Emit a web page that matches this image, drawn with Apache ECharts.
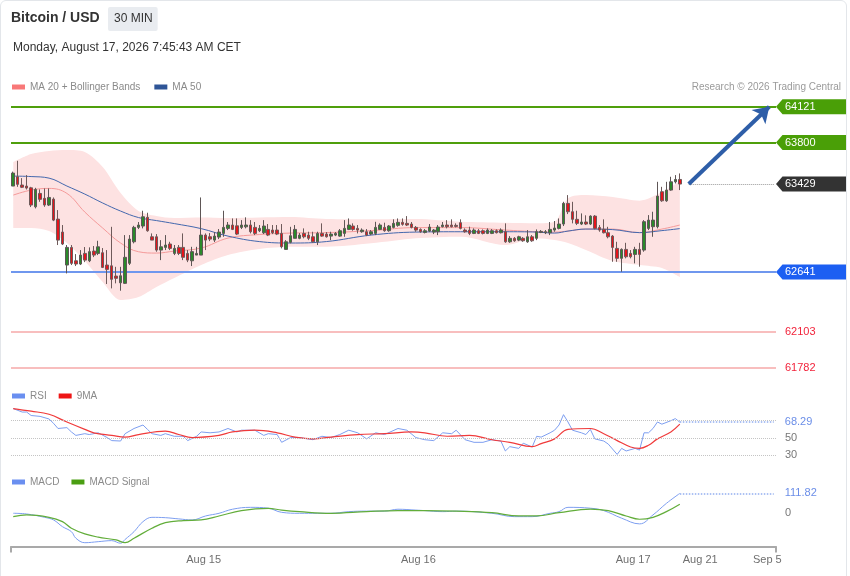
<!DOCTYPE html>
<html><head><meta charset="utf-8">
<script src="https://cdn.jsdelivr.net/npm/echarts/dist/echarts.min.js"></script>
<style>
html,body{margin:0;padding:0;background:#fff;}
#c{position:absolute;left:0;top:0;width:850px;height:576px;}
#frame{position:absolute;left:0;top:0;width:845px;height:600px;border:1px solid #e3e6ea;border-radius:6px;pointer-events:none;}
</style></head><body>
<div id="c"></div><div id="frame"></div>
<script>
// ---------- DATA ----------
const opens  = [63411,63494,63420,63411,63395,63225,63345,63301,63241,63294,63115,62999,62704,62862,62742,62713,62808,62742,62829,62808,62814,62704,62697,62605,62545,62540,62719,62912,63041,63053,63131,62957,62957,62838,62862,62892,62808,62862,62862,62808,62742,62793,62793,62972,62957,62927,62954,62987,63032,63062,63055,63041,63046,63062,63041,63011,62993,63023,63017,63017,62987,62844,62907,62943,62943,62987,62972,62957,62912,62987,62981,62963,62972,62963,62987,63023,63053,63032,63002,63002,62981,62987,63023,63041,63011,63041,63059,63086,63077,63071,63041,63023,62996,63008,62999,63002,63047,63062,63062,63059,63083,63017,63017,62987,63011,63011,62987,62987,63011,62993,63002,62912,62943,62927,62943,62912,62957,62943,62996,62993,62993,63017,63032,63071,63256,63181,63113,63071,63089,63071,63142,63041,63023,62993,62963,62853,62764,62844,62808,62799,62844,62838,63032,63047,63047,63360,63279,63375,63449,63470];
const closes = [63527,63426,63400,63393,63241,63381,63292,63241,63309,63106,62927,62892,62862,62719,62713,62793,62748,62824,62793,62867,62683,62665,62576,62585,62608,62773,62936,63041,63062,63136,63011,62927,62838,62867,62883,62853,62853,62808,62773,62748,62824,62808,62972,62927,62936,62963,62999,63041,63062,63023,62981,63062,63062,63002,62987,63032,63053,62972,62993,62981,62868,62912,62966,63023,62972,62957,62943,62912,62987,62963,62957,62981,62987,63011,63032,63062,63023,63017,63017,62972,63002,63041,63062,63011,63053,63077,63086,63068,63062,63041,63017,63002,63011,63044,63017,63044,63062,63047,63047,63050,63032,63002,62987,63017,62987,62987,63017,63011,62993,63017,62912,62943,62921,62957,62921,62957,62921,63002,63005,63002,63023,63035,63071,63256,63181,63113,63077,63089,63071,63142,63032,63017,62993,62957,62862,62764,62844,62778,62778,62844,62799,63092,63106,63106,63321,63279,63375,63449,63470,63429];
const lows   = [63411,63404,63393,63380,63223,63211,63270,63225,63232,63097,62883,62883,62629,62704,62695,62704,62730,62730,62775,62793,62677,62534,62495,62540,62474,62534,62704,62898,63026,63032,63002,62927,62823,62748,62838,62838,62793,62793,62748,62730,62695,62793,62793,62838,62918,62910,62936,62957,63017,63017,62972,63026,63032,62987,62972,62999,62981,62963,62981,62972,62853,62844,62898,62943,62935,62943,62927,62903,62883,62957,62950,62927,62963,62957,62957,63017,63011,62987,62993,62963,62972,62972,63017,63002,63002,63032,63047,63056,63053,63032,63002,62993,62987,62999,62981,62972,63041,63032,63041,63041,63023,62993,62972,62981,62981,62978,62981,62981,62987,62987,62903,62903,62912,62918,62912,62903,62912,62927,62990,62981,62972,63002,63023,63053,63160,63077,63062,63062,63062,63062,63023,63002,62987,62943,62733,62733,62644,62764,62764,62719,62689,62823,63017,62957,63032,63270,63270,63369,63434,63375];
const highs  = [63540,63637,63482,63509,63404,63395,63381,63390,63390,63309,63196,63062,62883,62883,62802,62838,62865,62862,62874,62921,62856,62838,63046,62688,62688,62972,62972,63055,63089,63190,63172,62987,62981,62927,62972,62912,62883,62883,62987,62838,62867,62867,63309,62987,62990,62999,63026,63190,63089,63121,63121,63106,63131,63106,63089,63062,63106,63071,63062,63062,63071,62927,63046,63062,62990,63032,63002,63002,63002,63077,62999,63002,62999,63026,63106,63121,63077,63062,63032,63026,63017,63091,63077,63083,63062,63113,63121,63121,63142,63089,63053,63032,63026,63071,63026,63062,63089,63106,63113,63077,63113,63032,63047,63032,63026,63023,63032,63026,63023,63032,63077,62963,62954,62966,62954,63017,62972,63023,63017,63017,63089,63098,63121,63270,63330,63270,63190,63166,63149,63149,63151,63062,63113,63046,62972,62912,62853,62903,62838,62867,62903,63106,63151,63181,63449,63404,63449,63494,63509,63524];

const bandIdx   = [0,4,8,12,16,20,24,28,32,36,42,48,55,62,70,80,90,100,110,117,121,124,128,134,140,145,149];
const bandUpper = [63625,63697,63724,63733,63715,63581,63348,63187,63142,63124,63129,63124,63129,63133,63115,63113,63115,63091,63082,63077,63091,63300,63330,63312,63280,63357,63455];
const bandLower = [63035,63035,63008,62901,62739,62552,62390,62417,62507,62587,62704,62793,62847,62867,62867,62898,62943,62957,62883,62943,62927,62901,62838,62739,62704,62677,62596];
const ma20      = [63330,63375,63390,63345,63178,63035,62901,62823,62811,62829,62856,62945,62977,62990,62994,63012,63039,63039,63017,63002,62999,63008,63026,63026,62994,63026,63062];
const ma50      = [63500,63496,63482,63411,63339,63259,63187,63129,63102,63075,63030,62963,62914,62901,62914,62972,62999,63002,63002,62999,62990,63008,63026,63021,62994,63012,63030];

const rsiIdx = [0,2,3,4,6,8,9,10,12,13,14,16,17,19,21,22,24,25,27,29,30,31,33,34,36,38,39,41,42,44,46,48,50,51,54,56,57,59,60,62,64,67,69,71,73,75,77,79,81,83,86,88,90,92,94,96,98,99,101,103,105,107,109,110,111,113,114,116,117,118,120,121,122,123,124,125,127,128,129,130,132,133,135,136,137,139,140,141,142,143,144,145,147,148,149];
const rsiVal = [84,80,80,76,75,72,67,61,62,57,53,55,54,56,50.5,47,46.5,55,61,65,60,55,53,55,52,52,47,52,57,56,57,61,57,59,59,53,55,54,45,50.5,50.5,48,52,50.5,54,59,56,49,56,54,61,59,50.5,48,47,56,55,59,48,45,45,48,46.5,35,40,38,44,39.6,52,51,56,59,65,77,68.5,59,56,54,60,49,46.5,43,31,38,35,38,36,56,56,61,68.5,66,70,72.4,68.29];
const rsiMaIdx = [0,4,8,12,16,18,22,25,28,34,37,40,46,49,54,59,63,67,71,77,83,89,92,97,102,107,111,116,118,121,124,129,132,135,138,140,142,144,147,149];
const rsiMaVal = [84,81,77.4,68.5,60,56,53,51,54,58,54,50.5,53,57,59,56,51,49,51,54,55,57,56,52,53,48,45,40,43.5,49,60,61,55,47,39.6,38,41.6,49,57,66];

const macdIdx = [0,3,7,9,11,13,14,16,19,22,24,25,27,29,31,34,37,40,43,46,49,53,57,60,64,68,71,75,79,83,86,90,92,96,99,107,112,116,120,122,124,129,132,136,140,143,146,149];
const macdVal = [-3.5,-7.5,-27,-42,-81,-110,-148,-174,-168,-162,-177,-155,-110,-52,-27,-29,-36,-42,-19,-3.5,20,31,26,2,-3.5,-3.5,-3.5,6,9,9,20,15,12,6,9,-3.5,-23,-23,-3.5,6,31,26,12,-32,-65,-13,54,111.82];
const sigIdx = [0,3,8,11,13,16,19,23,25,27,31,34,38,42,46,51,57,60,64,71,79,86,92,99,107,113,117,122,129,133,137,140,143,146,149];
const sigVal = [-23,-13,-27,-52,-90,-123,-142,-158,-174,-148,-90,-58,-46,-42,-19,12,25,15,6,-3.5,6,12,12,9,0,-19,-19,0,21,12,-19,-38,-27,6,49];

const resistanceLevels = [64121, 63800];
const supportLevels = [62641];
const minorLevels = [62103, 61782];
const lastPrice = 63429;
const targetPrice = 64121;
const rsiLast = 68.29;
const rsiGuides = [70, 50, 30];
const macdLast = 111.82;

const xLabelIdx  = [42, 90, 138, 153, 168];
const xLabelText = ['Aug 15', 'Aug 16', 'Aug 17', 'Aug 21', 'Sep 5'];
const N_CAT = 171;
const categories = Array.from({length: N_CAT}, (_, i) => 'c' + i);

// ---------- CHART ----------
const FONT = '"Liberation Sans", Arial, Helvetica, sans-serif';
const GL = 11, GW = 765;
const LAST = closes.length - 1;
const chart = echarts.init(document.getElementById('c'));
const pairs = (xs, ys) => xs.map((x, k) => [x, ys[k]]);
const bandSpan = bandUpper.map((u, k) => u - bandLower[k]);
const candleData = opens.map((o, i) => [o, closes[i], lows[i], highs[i]]);

const hiddenX = (g) => ({type:'category', gridIndex:g, data:categories, boundaryGap:true, show:false});
const endLabel = (txt, color, dist) => ({show:true, position:'end', formatter:txt, color:color, fontSize:11, fontFamily:FONT, distance:dist});

const mainLines = [];
resistanceLevels.forEach(v => mainLines.push({yAxis:v, lineStyle:{color:'#4f9f0c', width:2, type:'solid'}}));
supportLevels.forEach(v => mainLines.push({yAxis:v, lineStyle:{color:'#6f97ee', width:2, type:'solid'}}));
minorLevels.forEach(v => mainLines.push({yAxis:v, lineStyle:{color:'#f6a9a9', width:1.5, type:'solid'}, label:endLabel(String(v), '#f2233b', 9)}));
mainLines.push([{coord:[LAST + 2, lastPrice]}, {coord:[N_CAT - 1, lastPrice], lineStyle:{color:'#9a9a9a', width:1, type:'dotted'}}]);
mainLines.push([{coord:[LAST + 2, lastPrice], symbol:'none'}, {coord:[N_CAT - 2, targetPrice], symbol:'arrow', symbolSize:15, lineStyle:{color:'#2e5ea8', width:4, type:'solid'}}]);

const rsiLines = [];
rsiGuides.forEach(v => rsiLines.push({yAxis:v, lineStyle:{color:'#c4c4c4', width:1, type:'dotted'}, label: v === 70 ? {show:false} : endLabel(String(v), '#777', 9)}));
rsiLines.push([{coord:[LAST, rsiLast]}, {coord:[N_CAT - 1, rsiLast], lineStyle:{color:'#93aef0', width:1.5, type:'dotted'}, label:endLabel(String(rsiLast), '#6b8ee8', 11)}]);

const macdLines = [
  {yAxis:0, lineStyle:{color:'rgba(255,255,255,0)', width:1, type:'solid'}, label:endLabel('0', '#777', 9)},
  [{coord:[LAST, macdLast]}, {coord:[N_CAT - 1, macdLast], lineStyle:{color:'#93aef0', width:1.5, type:'dotted'}, label:endLabel(String(macdLast), '#6b8ee8', 11)}]
];

const mk = (data) => ({silent:true, animation:false, symbol:['none','none'], label:{show:false}, data:data});

const option = {
  animation:false,
  textStyle:{fontFamily:FONT},
  title:[
    {text:'Bitcoin / USD', left:11, top:11, padding:0, textStyle:{fontSize:14, fontWeight:'bold', color:'#333', fontFamily:FONT}},
    {text:'30 MIN', left:108, top:7, padding:[6,5,6,6], backgroundColor:'#e9ecf0', borderRadius:2, textStyle:{fontSize:12, fontWeight:'normal', color:'#333', fontFamily:FONT}},
    {text:'Monday, August 17, 2026 7:45:43 AM CET', left:13, top:42, padding:0, textStyle:{fontSize:12, fontWeight:'normal', color:'#333', fontFamily:FONT}},
    {text:'Research © 2026 Trading Central', right:9, top:82, padding:0, textStyle:{fontSize:10, fontWeight:'normal', color:'#9a9a9a', fontFamily:FONT}}
  ],
  legend:[
    {left:12, top:82, padding:0, icon:'rect', itemWidth:13, itemHeight:5, itemGap:14, selectedMode:false,
     textStyle:{color:'#8a8a8a', fontSize:10, fontFamily:FONT},
     data:[{name:'MA 20 + Bollinger Bands', itemStyle:{color:'#f87878'}}, {name:'MA 50', itemStyle:{color:'#2f5597'}}]},
    {left:12, top:391, padding:0, icon:'rect', itemWidth:13, itemHeight:5, itemGap:12, selectedMode:false,
     textStyle:{color:'#8a8a8a', fontSize:10, fontFamily:FONT},
     data:[{name:'RSI', itemStyle:{color:'#6a8ff0'}}, {name:'9MA', itemStyle:{color:'#ee1515'}}]},
    {left:12, top:477, padding:0, icon:'rect', itemWidth:13, itemHeight:5, itemGap:12, selectedMode:false,
     textStyle:{color:'#8a8a8a', fontSize:10, fontFamily:FONT},
     data:[{name:'MACD', itemStyle:{color:'#6a8ff0'}}, {name:'MACD Signal', itemStyle:{color:'#4a9e12'}}]}
  ],
  grid:[
    {left:GL, width:GW, top:97.9, height:279.3, outerBoundsMode:'none'},
    {left:GL, width:GW, top:394.75, height:86.5, outerBoundsMode:'none'},
    {left:GL, width:GW, top:486.8, height:59.7, outerBoundsMode:'none'}
  ],
  xAxis:[
    hiddenX(0), hiddenX(1),
    {type:'category', gridIndex:2, data:categories, boundaryGap:true,
     axisLine:{show:true, onZero:false, lineStyle:{color:'#a9a9a9', width:2}},
     axisTick:{show:true, interval:(i) => i === 0, length:6, lineStyle:{color:'#a9a9a9', width:2}},
     axisLabel:{show:true, interval:(i) => xLabelIdx.indexOf(i) >= 0, formatter:(v, i) => xLabelText[xLabelIdx.indexOf(i)] || '',
                color:'#6f6f6f', fontSize:11, fontFamily:FONT, margin:8, padding:[0,0,0,5]},
     splitLine:{show:false}}
  ],
  yAxis:[
    {type:'value', gridIndex:0, min:61700, max:64200, show:false},
    {type:'value', gridIndex:1, min:0, max:100, show:false},
    {type:'value', gridIndex:2, min:-196, max:150, show:false}
  ],
  series:[
    {name:'bbLower', type:'line', xAxisIndex:0, yAxisIndex:0, data:pairs(bandIdx, bandLower), stack:'bb', symbol:'none', smooth:0.3, lineStyle:{opacity:0}, silent:true, z:1},
    {name:'bbSpan', type:'line', xAxisIndex:0, yAxisIndex:0, data:pairs(bandIdx, bandSpan), stack:'bb', symbol:'none', smooth:0.3, lineStyle:{opacity:0}, areaStyle:{color:'#fde2e2', opacity:1}, silent:true, z:1},
    {name:'MA 20 + Bollinger Bands', type:'line', xAxisIndex:0, yAxisIndex:0, data:pairs(bandIdx, ma20), symbol:'none', smooth:0.4, lineStyle:{color:'#f59a9a', width:1}, itemStyle:{color:'#f87878'}, z:2},
    {name:'MA 50', type:'line', xAxisIndex:0, yAxisIndex:0, data:pairs(bandIdx, ma50), symbol:'none', smooth:0.4, lineStyle:{color:'#4468ae', width:1}, itemStyle:{color:'#2f5597'}, z:2},
    {name:'price', type:'candlestick', xAxisIndex:0, yAxisIndex:0, data:candleData, barWidth:3, z:5,
     itemStyle:{color:'#2a8a2a', color0:'#e5141b', borderColor:'#5e5656', borderColor0:'#6e5a5a', borderWidth:1},
     markLine:mk(mainLines)},
    {name:'RSI', type:'line', xAxisIndex:1, yAxisIndex:1, data:pairs(rsiIdx, rsiVal), symbol:'none', lineStyle:{color:'#7d9ef0', width:1}, itemStyle:{color:'#6a8ff0'}, z:3, markLine:mk(rsiLines)},
    {name:'9MA', type:'line', xAxisIndex:1, yAxisIndex:1, data:pairs(rsiMaIdx, rsiMaVal), symbol:'none', smooth:0.4, lineStyle:{color:'#f03a3a', width:1.2}, itemStyle:{color:'#ee1515'}, z:3},
    {name:'MACD', type:'line', xAxisIndex:2, yAxisIndex:2, data:pairs(macdIdx, macdVal), symbol:'none', smooth:0.4, lineStyle:{color:'#7d9ef0', width:1}, itemStyle:{color:'#6a8ff0'}, z:3, markLine:mk(macdLines)},
    {name:'MACD Signal', type:'line', xAxisIndex:2, yAxisIndex:2, data:pairs(sigIdx, sigVal), symbol:'none', smooth:0.4, lineStyle:{color:'#62ad3a', width:1.2}, itemStyle:{color:'#4a9e12'}, z:3}
  ]
};
chart.setOption(option);

// value badges at the right edge, positioned through the price axis
function badge(value, color) {
  const y = chart.convertToPixel({yAxisIndex:0}, value);
  const x0 = GL + GW, x1 = 846, h = 7.5;
  return [
    {type:'polygon', z:100, silent:true, shape:{points:[[x0, y],[x0 + 6.5, y - h],[x1, y - h],[x1, y + h],[x0 + 6.5, y + h]]}, style:{fill:color}},
    {type:'text', z:101, silent:true, x:x0 + 9, y:y, style:{text:String(value), fill:'#fff', fontSize:11, fontFamily:FONT, verticalAlign:'middle', align:'left'}}
  ];
}
let g = [];
resistanceLevels.forEach(v => { g = g.concat(badge(v, '#4a9f07')); });
supportLevels.forEach(v => { g = g.concat(badge(v, '#1c5ff2')); });
g = g.concat(badge(lastPrice, '#333333'));
chart.setOption({graphic: g});
</script></body></html>
